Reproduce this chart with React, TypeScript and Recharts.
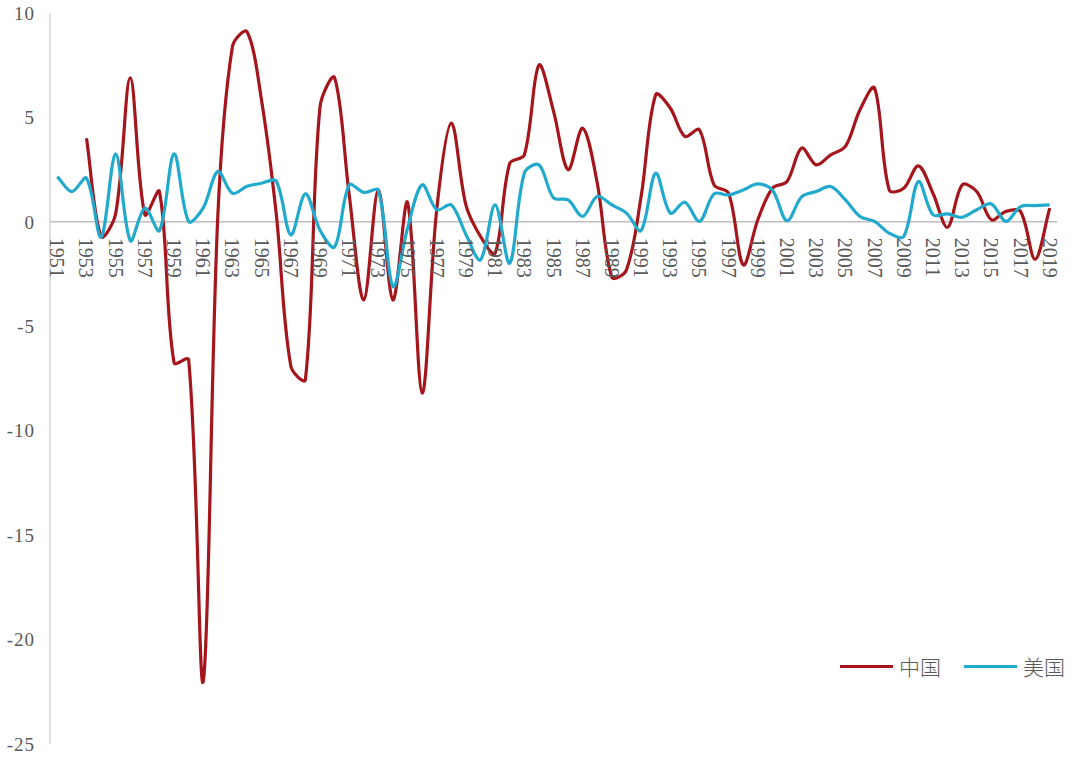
import React from "react";
import { LineChart, Line, XAxis, YAxis, ReferenceLine, Legend } from "recharts";

const years = [
  "1951","1952","1953","1954","1955","1956","1957","1958","1959","1960",
  "1961","1962","1963","1964","1965","1966","1967","1968","1969","1970",
  "1971","1972","1973","1974","1975","1976","1977","1978","1979","1980",
  "1981","1982","1983","1984","1985","1986","1987","1988","1989","1990",
  "1991","1992","1993","1994","1995","1996","1997","1998","1999","2000",
  "2001","2002","2003","2004","2005","2006","2007","2008","2009","2010",
  "2011","2012","2013","2014","2015","2016","2017","2018","2019",
];

const china = [
  null, null, 4.0, -0.7, 0.4, 6.9, 0.35, 1.45, -6.75, -6.6,
  -22.0, 0.3, 8.4, 9.1, 5.8, 0.4, -6.9, -7.55, 5.5, 6.9,
  1.3, -3.74, 1.53, -3.74, 0.93, -8.2, 0.6, 4.73, 0.8, -0.7,
  -1.5, 2.8, 3.2, 7.5, 5.3, 2.5, 4.49, 1.85, -2.65, -2.3,
  1.2, 6.09, 5.45, 4.09, 4.41, 1.77, 1.37, -2.06, 0.1, 1.61,
  1.93, 3.53, 2.73, 3.21, 3.61, 5.37, 6.41, 1.53, 1.61, 2.68,
  1.37, -0.26, 1.77, 1.45, 0.1, 0.5, 0.5, -1.79, 0.66,
];

const usa = [
  2.17, 1.45, 2.09, -0.73, 3.26, -0.9, 0.66, -0.42, 3.26, 0.02,
  0.67, 2.41, 1.37, 1.7, 1.85, 1.95, -0.62, 1.34, -0.4, -1.2,
  1.77, 1.41, 1.5, -3.1, -0.3, 1.77, 0.58, 0.81, -0.6, -1.82,
  0.81, -1.98, 2.33, 2.73, 1.15, 1.05, 0.26, 1.22, 0.81, 0.42,
  -0.42, 2.33, 0.42, 0.94, 0.02, 1.34, 1.29, 1.53, 1.82, 1.53,
  0.05, 1.2, 1.45, 1.69, 1.05, 0.26, 0.02, -0.54, -0.7, 1.93,
  0.34, 0.38, 0.22, 0.58, 0.86, 0.02, 0.73, 0.78, 0.81,
];

const yTicks = [10, 5, 0, -5, -10, -15, -20, -25];
const yDomain = [-25, 10];

const data = years.map((y, i) => ({ year: y, 中国: china[i], 美国: usa[i] }));

const RED = "#A5161C";
const BLUE = "#22AACD";
const GRAY_TEXT = "#595959";
const AXIS_GRAY = "#BFBFBF";

const W = 1080;
const H = 763;
const X_AXIS_H = 19;
const MARGIN = { top: 13, right: 23, bottom: 0, left: 0 };
const PLOT_TOP = MARGIN.top;
const PLOT_BOTTOM = H - MARGIN.bottom - X_AXIS_H;
const ZERO_Y =
  PLOT_TOP + ((PLOT_BOTTOM - PLOT_TOP) * (yDomain[1] - 0)) / (yDomain[1] - yDomain[0]);
const HALF_BAND = (W - MARGIN.right - 50) / years.length / 2;

// Excel-like smoothed line: Catmull-Rom tangents scaled by chord lengths
function excelCurve(context: any) {
  let pts: number[][] = [];
  const dist = (a: number[], b: number[]) => Math.hypot(b[0] - a[0], b[1] - a[1]);
  return {
    areaStart() {},
    areaEnd() {},
    lineStart() {
      pts = [];
    },
    point(x: number, y: number) {
      pts.push([+x, +y]);
    },
    lineEnd() {
      const n = pts.length;
      if (!n) return;
      context.moveTo(pts[0][0], pts[0][1]);
      for (let i = 0; i < n - 1; i++) {
        const p0 = pts[i - 1] || pts[i];
        const p1 = pts[i];
        const p2 = pts[i + 1];
        const p3 = pts[i + 2] || p2;
        const d01 = dist(p0, p1);
        const d12 = dist(p1, p2);
        const d23 = dist(p2, p3);
        const f1 = d01 + d12 > 0 ? d12 / (d01 + d12) / 3 : 0;
        const f2 = d12 + d23 > 0 ? d12 / (d12 + d23) / 3 : 0;
        const s1 = i === 0 ? 1 / 3 : f1;
        const s2 = i === n - 2 ? 1 / 3 : f2;
        const c1x = p1[0] + (p2[0] - p0[0]) * s1;
        const c1y = p1[1] + (p2[1] - p0[1]) * s1;
        const c2x = p2[0] - (p3[0] - p1[0]) * s2;
        const c2y = p2[1] - (p3[1] - p1[1]) * s2;
        context.bezierCurveTo(c1x, c1y, c2x, c2y, p2[0], p2[1]);
      }
    },
  };
}

const XTick = (props: any) => {
  const { x, y, payload } = props;
  const top = y - (PLOT_BOTTOM - ZERO_Y) + 16;
  return (
    <text
      transform={`translate(${x},${top}) rotate(90)`}
      textAnchor="start"
      dominantBaseline="central"
      fill={GRAY_TEXT}
      fontFamily="'Liberation Serif', 'DejaVu Serif', serif"
      fontSize={20}
    >
      {payload.value}
    </text>
  );
};

const LegendContent = (props: any) => {
  const { payload } = props;
  return (
    <div style={{ display: "flex", alignItems: "center" }}>
      {(payload || []).map((p: any, i: number) => (
        <div
          key={i}
          style={{ display: "flex", alignItems: "center", marginRight: i === 0 ? 23 : 0 }}
        >
          <div style={{ width: 53, height: 3, background: p.color, marginRight: 6 }} />
          <span
            style={{
              fontFamily: "'Noto Sans CJK SC', sans-serif",
              fontSize: 21,
              fontWeight: 300,
              color: GRAY_TEXT,
              lineHeight: "26px",
            }}
          >
            {p.value}
          </span>
        </div>
      ))}
    </div>
  );
};

export default function App() {
  return (
    <div style={{ width: W, height: H, background: "#fff" }}>
      <style>{"body{margin:0;background:#fff}"}</style>
      <LineChart width={W} height={H} data={data} margin={MARGIN}>
        <XAxis
          dataKey="year"
          interval={1}
          height={X_AXIS_H}
          padding={{ left: HALF_BAND, right: HALF_BAND }}
          axisLine={false}
          tickLine={false}
          tickSize={0}
          tickMargin={0}
          tick={<XTick />}
        />
        <YAxis
          width={50}
          domain={yDomain}
          ticks={yTicks}
          interval={0}
          allowDataOverflow
          axisLine={{ stroke: AXIS_GRAY, strokeWidth: 1 }}
          tickLine={false}
          tickSize={0}
          tickMargin={15}
          tick={{
            fill: GRAY_TEXT,
            fontSize: 19,
            letterSpacing: 1,
            fontFamily: "'Liberation Serif', 'DejaVu Serif', serif",
          }}
        />
        <ReferenceLine y={0} stroke={AXIS_GRAY} strokeWidth={1.5} />
        <Line
          dataKey="中国"
          type={excelCurve as any}
          stroke={RED}
          strokeWidth={3.2}
          dot={false}
          activeDot={false}
          isAnimationActive={false}
        />
        <Line
          dataKey="美国"
          type={excelCurve as any}
          stroke={BLUE}
          strokeWidth={3.2}
          dot={false}
          activeDot={false}
          isAnimationActive={false}
        />
        <Legend
          layout="horizontal"
          verticalAlign="middle"
          align="center"
          content={<LegendContent />}
          wrapperStyle={{ left: 840, top: 653, width: 240 }}
        />
      </LineChart>
    </div>
  );
}
